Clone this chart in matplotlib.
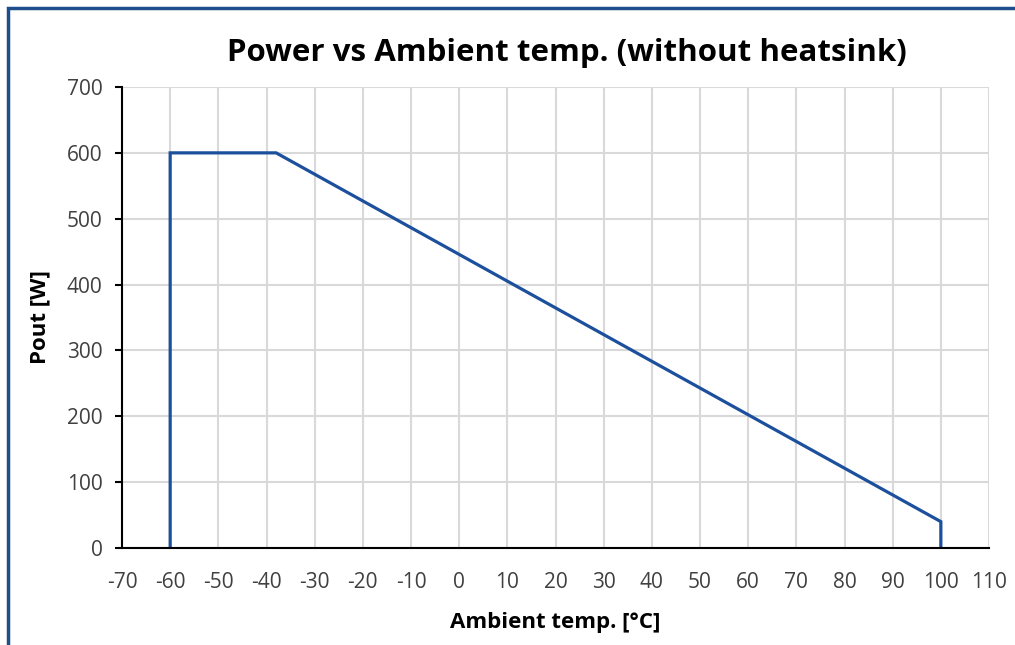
import matplotlib.pyplot as plt
from matplotlib.patches import Rectangle

plt.rcParams['font.family'] = ['Open Sans', 'DejaVu Sans']
plt.rcParams['axes.unicode_minus'] = False

# derating curve
temp = [-60, -60, -38, 100, 100]
power = [0, 600, 600, 40, 0]

x_ticks = list(range(-70, 111, 10))
y_ticks = list(range(0, 701, 100))

fig = plt.figure(figsize=(10.15, 6.45), dpi=100)
ax = fig.add_axes([0.1202, 0.1504, 0.8542, 0.7147])

ax.plot(temp, power, color='#1c4f9c', linewidth=2.3, solid_joinstyle='miter')

ax.set_xlim(-70, 110)
ax.set_ylim(0, 700)
ax.set_xticks(x_ticks)
ax.set_yticks(y_ticks)
ax.grid(True, color='#d9d9d9', linewidth=1.5)
ax.set_axisbelow(True)

for side in ['top', 'right']:
    ax.spines[side].set_visible(False)
for side in ['left', 'bottom']:
    ax.spines[side].set_color('black')
    ax.spines[side].set_linewidth(1.5)

ax.tick_params(axis='x', length=0, pad=17, labelsize=15, colors='#404040')
ax.tick_params(axis='y', length=5, width=1.5, direction='out', pad=9, labelsize=15, colors='#404040')
ax.tick_params(axis='both', color='black')

ax.set_xlabel('Ambient temp. [°C]', fontsize=16, fontweight='bold', va='center')
ax.xaxis.set_label_coords(0.5, -0.162)
ax.set_ylabel('Pout [W]', fontsize=16, fontweight='bold', va='center')
ax.yaxis.set_label_coords(-0.0946, 0.5)
fig.text(0.5586, 0.918, 'Power vs Ambient temp. (without heatsink)', fontsize=22.5,
         fontweight='bold', ha='center', va='center')

# chart frame, runs off the right and bottom of the image
fig.patches.append(Rectangle((0.0075, -0.05), 1.2, 1.0378, transform=fig.transFigure,
                             fill=False, edgecolor='#1f4e8c', linewidth=2.5))

fig.savefig('out.png', dpi=100)
